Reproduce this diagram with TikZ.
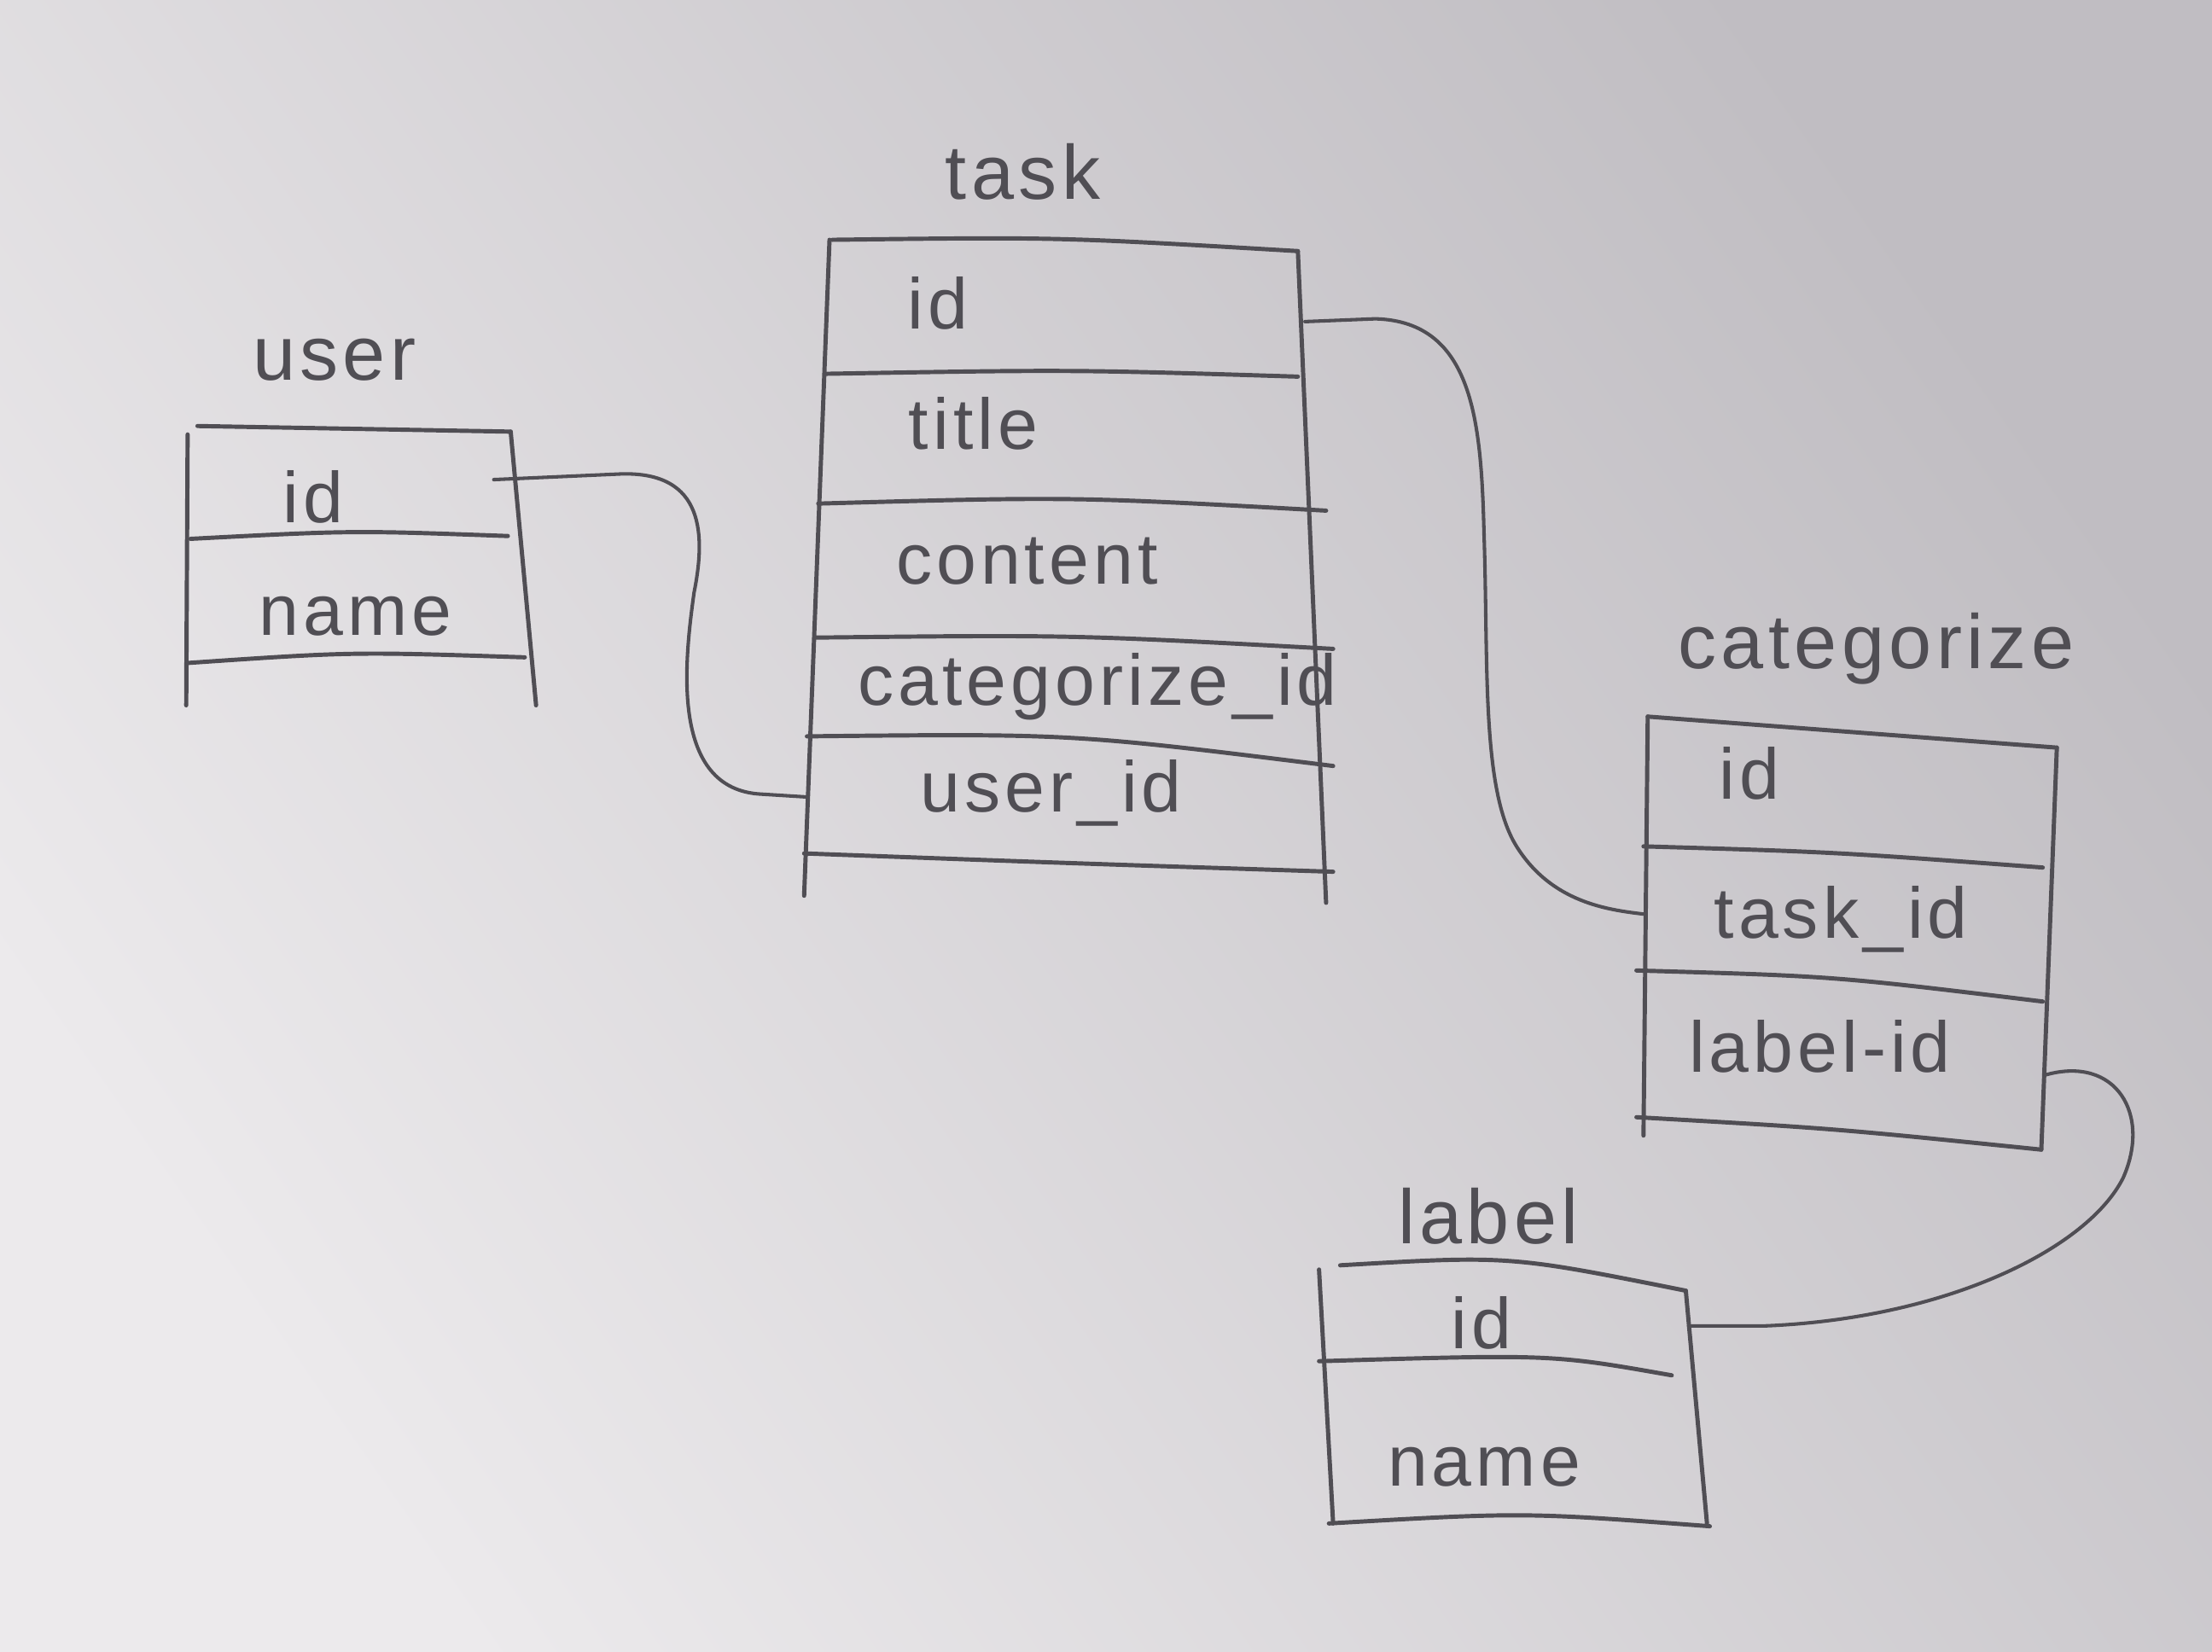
\documentclass[tikz,border=0pt]{standalone}
\usepackage{fontspec}
\newfontfamily\hand{Liberation Sans}[LetterSpace=6]
\definecolor{ink}{RGB}{80,78,84}
\definecolor{paperA}{RGB}{236,234,236}
\definecolor{paperB}{RGB}{192,189,194}
\begin{document}
\begin{tikzpicture}[x=0.02cm,y=-0.02cm,
  pen/.style={draw=ink,line width=1.7pt,line cap=round,line join=round},
  wire/.style={draw=ink,line width=1.4pt,line cap=round},
  field/.style={font=\hand\fontsize{29}{31}\selectfont,text=ink,inner sep=0pt},
  tabtitle/.style={font=\hand\fontsize{31}{33}\selectfont,text=ink,inner sep=0pt}]
\useasboundingbox (0,0) rectangle (1568,1171);
\shade[left color=paperA,right color=paperB,shading angle=125] (0,0) rectangle (1568,1171);

% ---------- task ----------
\node[tabtitle] (tTask) at (725,122) {task};
\draw[pen] (590,170) .. controls (750,168) .. (920,178);
\draw[pen] (588,170) -- (570,635);
\draw[pen] (920,178) -- (940,640);
\draw[pen] (585,265) .. controls (760,262) .. (920,267);
\draw[pen] (580,357) .. controls (760,352) .. (940,362);
\draw[pen] (578,452) .. controls (760,450) .. (945,460);
\draw[pen] (572,522) .. controls (760,520) .. (945,543);
\draw[pen] (570,605) .. controls (760,612) .. (945,618);
\node[field] (tId) at (665,215) {id};
\node[field] (tTitle) at (690,300) {title};
\node[field] (tContent) at (728,398) {content};
\node[field] (tCat) at (778,487) {categorize\_id};
\node[field] (tUser) at (745,562) {user\_id};

% ---------- user ----------
\node[tabtitle] (tUserT) at (237,255) {user};
\draw[pen] (140,302) -- (362,306);
\draw[pen] (133,308) -- (132,500);
\draw[pen] (362,306) -- (380,500);
\draw[pen] (135,382) .. controls (250,376) .. (360,380);
\draw[pen] (133,470) .. controls (250,462) .. (372,466);
\node[field] (uId) at (222,352) {id};
\node[field] (uName) at (252,437) {name};

% ---------- categorize ----------
\node[tabtitle] (tCatT) at (1330,460) {categorize};
\draw[pen] (1168,508) .. controls (1300,518) .. (1458,530);
\draw[pen] (1168,508) -- (1165,805);
\draw[pen] (1458,530) -- (1447,815);
\draw[pen] (1165,600) .. controls (1300,604) .. (1448,615);
\draw[pen] (1160,688) .. controls (1300,692) .. (1448,710);
\draw[pen] (1160,792) .. controls (1300,800) .. (1447,815);
\node[field] (cId) at (1240,548) {id};
\node[field] (cTask) at (1305,652) {task\_id};
\node[field] (cLabel) at (1290,742) {label-id};

% ---------- label ----------
\node[tabtitle] (tLabelT) at (1055,862) {label};
\draw[pen] (950,897) .. controls (1070,890) .. (1195,915);
\draw[pen] (935,900) -- (945,1080);
\draw[pen] (1195,915) -- (1210,1080);
\draw[pen] (935,965) .. controls (1100,960) .. (1185,975);
\draw[pen] (942,1080) .. controls (1080,1072) .. (1212,1082);
\node[field] (lId) at (1050,938) {id};
\node[field] (lName) at (1052,1040) {name};

% ---------- connectors ----------
\coordinate (uIdR) at (350,340);
\coordinate (tUserL) at (572,565);
\coordinate (tIdR) at (925,228);
\coordinate (cTaskL) at (1165,648);
\coordinate (cLabelR) at (1450,762);
\coordinate (lIdR) at (1197,940);

\draw[wire] (uIdR) -- (440,336) .. controls (500,334) and (500,380) .. (492,420)
  .. controls (485,470) and (475,560) .. (540,563) -- (tUserL);
\draw[wire] (tIdR) -- (975,226) .. controls (1045,228) and (1050,300) .. (1052,380)
  .. controls (1055,470) and (1050,560) .. (1075,600)
  .. controls (1100,640) and (1140,645) .. (cTaskL);
\draw[wire] (cLabelR) .. controls (1500,748) and (1525,790) .. (1505,835)
  .. controls (1480,885) and (1380,935) .. (1250,940) -- (lIdR);
\end{tikzpicture}
\end{document}
